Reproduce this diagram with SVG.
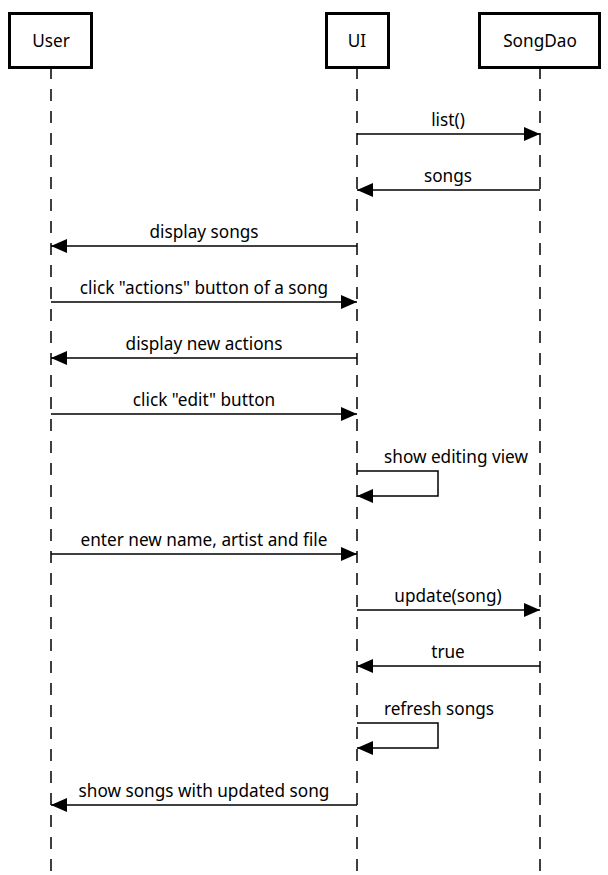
<svg xmlns="http://www.w3.org/2000/svg" width="608" height="875" viewBox="0 0 608 875">
<style>
.box{fill:#fff;stroke:#000;stroke-width:3}
.life{stroke:#000;stroke-width:1.5;stroke-dasharray:12 10;fill:none}
.msg{stroke:#000;stroke-width:1.5;fill:none}
text{font-family:"Noto Sans","DejaVu Sans",sans-serif;font-size:17.2px;fill:#000;text-anchor:middle}
</style>
<defs>
<marker id="ah" viewBox="0 0 16 14" refX="16" refY="7" markerWidth="16" markerHeight="14" markerUnits="userSpaceOnUse" orient="auto">
<path d="M0,0 L16,7 L0,14 Z" fill="#000"/>
</marker>
</defs>
<g id="lifelines">
<line class="life" x1="51" y1="67" x2="51" y2="875"/>
<line class="life" x1="357" y1="67" x2="357" y2="875"/>
<line class="life" x1="540" y1="67" x2="540" y2="875"/>
</g>
<g id="user"><rect class="box" x="9.5" y="13.5" width="82" height="54"/><text x="51" y="47">User</text></g>
<g id="ui"><rect class="box" x="326.5" y="13.5" width="62" height="54"/><text x="357" y="47">UI</text></g>
<g id="songdao"><rect class="box" x="479.5" y="13.5" width="120" height="54"/><text x="540" y="47">SongDao</text></g>
<g id="connectors">
<line class="msg" x1="357" y1="134" x2="540" y2="134" marker-end="url(#ah)"/>
<text x="448" y="126">list()</text>
<line class="msg" x1="540" y1="190" x2="357" y2="190" marker-end="url(#ah)"/>
<text x="448" y="182">songs</text>
<line class="msg" x1="357" y1="246" x2="51" y2="246" marker-end="url(#ah)"/>
<text x="204" y="238">display songs</text>
<line class="msg" x1="51" y1="302" x2="357" y2="302" marker-end="url(#ah)"/>
<text x="204" y="294">click "actions" button of a song</text>
<line class="msg" x1="357" y1="358" x2="51" y2="358" marker-end="url(#ah)"/>
<text x="204" y="350">display new actions</text>
<line class="msg" x1="51" y1="414" x2="357" y2="414" marker-end="url(#ah)"/>
<text x="204" y="406">click "edit" button</text>
<path class="msg" d="M357,471 H438 V496 H357" marker-end="url(#ah)"/>
<text x="456" y="463">show editing view</text>
<line class="msg" x1="51" y1="554" x2="357" y2="554" marker-end="url(#ah)"/>
<text x="204" y="546">enter new name, artist and file</text>
<line class="msg" x1="357" y1="610" x2="540" y2="610" marker-end="url(#ah)"/>
<text x="448" y="602">update(song)</text>
<line class="msg" x1="540" y1="666" x2="357" y2="666" marker-end="url(#ah)"/>
<text x="448" y="658">true</text>
<path class="msg" d="M357,723 H438 V748 H357" marker-end="url(#ah)"/>
<text x="439" y="715">refresh songs</text>
<line class="msg" x1="357" y1="805" x2="51" y2="805" marker-end="url(#ah)"/>
<text x="204" y="797">show songs with updated song</text>
</g>
</svg>
